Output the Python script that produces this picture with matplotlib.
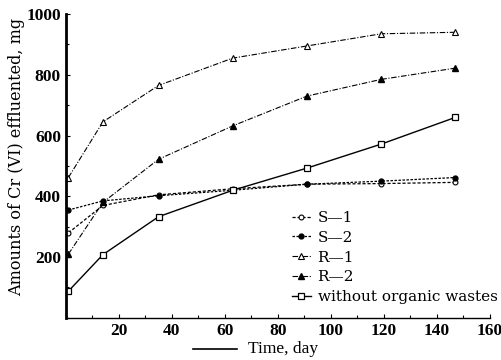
import matplotlib
matplotlib.use("Agg")
import matplotlib.pyplot as plt
from matplotlib.ticker import MultipleLocator

plt.rcParams['font.family'] = ['Liberation Serif', 'DejaVu Serif']

days = [1, 14, 35, 63, 91, 119, 147]
s1 = [280, 370, 405, 425, 440, 442, 446]
s2 = [355, 385, 402, 420, 440, 450, 462]
r1 = [462, 645, 765, 855, 895, 935, 940]
r2 = [210, 380, 522, 632, 730, 785, 822]
none = [88, 208, 333, 420, 493, 572, 660]

labels = ["S\u20141", "S\u20142", "R\u20141", "R\u20142", "without organic wastes"]
xticks = [20, 40, 60, 80, 100, 120, 140, 160]
yticks = [200, 400, 600, 800, 1000]

fig = plt.figure(figsize=(5.02, 3.60), dpi=100)
ax = fig.add_axes([0.131, 0.117, 0.845, 0.844])

ax.plot(days, s1, color='black', lw=0.9, ls=(0, (2.5, 1.5)), marker='o', ms=3.5,
        mfc='white', mec='black', mew=0.8, label=labels[0])
ax.plot(days, s2, color='black', lw=0.9, ls=(0, (2, 1.2)), marker='o', ms=3.5,
        mfc='black', mec='black', label=labels[1])
ax.plot(days, r1, color='black', lw=0.8, ls=(0, (5, 1.5, 1, 1.5)), marker='^', ms=4.5,
        mfc='white', mec='black', mew=0.8, label=labels[2])
ax.plot(days, r2, color='black', lw=0.8, ls=(0, (5, 1.5, 1, 1.5)), marker='^', ms=4.5,
        mfc='black', mec='black', label=labels[3])
ax.plot(days, none, color='black', lw=1.0, ls='-', marker='s', ms=5,
        mfc='white', mec='black', mew=0.9, label=labels[4])

ax.set_xlim(0, 160)
ax.set_ylim(0, 1000)
ax.set_xticks(xticks)
ax.set_yticks(yticks)
ax.xaxis.set_minor_locator(MultipleLocator(10))
ax.yaxis.set_minor_locator(MultipleLocator(100))
ax.tick_params(axis='both', which='both', direction='in', labelsize=12.5, length=3, width=0.8)
ax.tick_params(axis='both', which='minor', length=2)
for lab in ax.get_xticklabels() + ax.get_yticklabels():
    lab.set_fontweight('bold')
ax.spines['top'].set_visible(False)
ax.spines['right'].set_visible(False)
ax.spines['left'].set_linewidth(2.0)
ax.spines['bottom'].set_linewidth(1.0)
ax.spines['bottom'].set_linestyle((0, (3, 1)))

ax.set_ylabel("Amounts of Cr (VI) effluented, mg", fontsize=11.6,
              family=['DejaVu Serif'])
ax.yaxis.set_label_coords(-0.097, 0.53)
fig.text(0.494, 0.03, "Time, day", fontsize=12.5, ha='left', va='center')
fig.add_artist(plt.Line2D([0.384, 0.472], [0.03, 0.03], color='black', lw=1.2,
                          transform=fig.transFigure))

leg = ax.legend(loc='lower right', bbox_to_anchor=(1.05, 0.0), frameon=False,
                prop={'family': 'DejaVu Serif', 'size': 11},
                handlelength=1.3, labelspacing=0.38, handletextpad=0.4)

fig.savefig("out.png", dpi=100)
